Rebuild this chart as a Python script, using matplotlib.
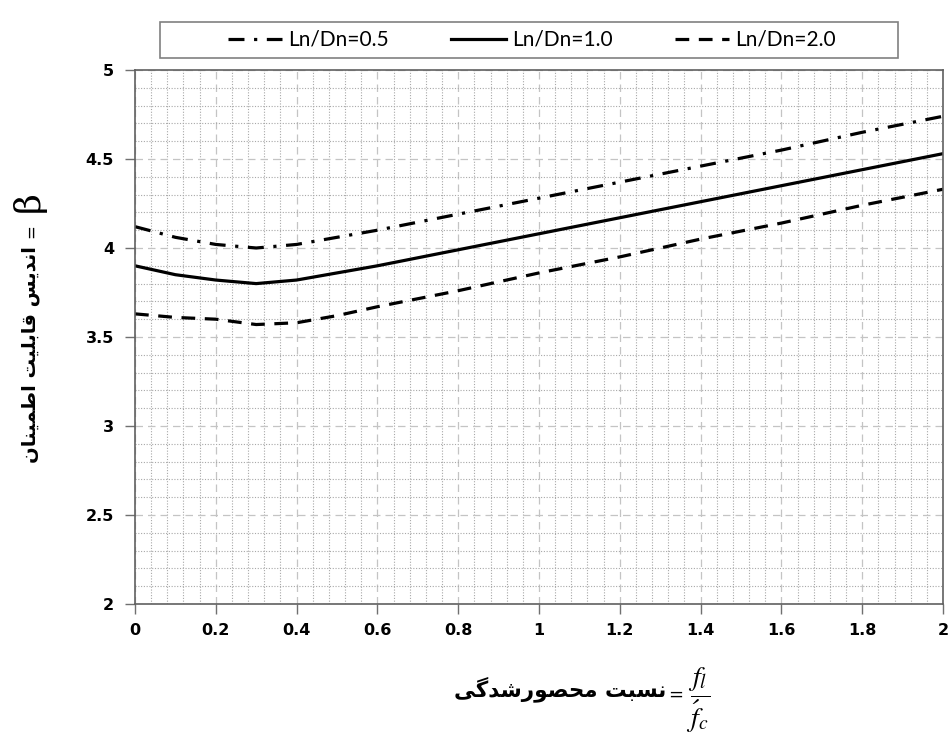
#!/usr/bin/env python3
"""
Reliability index vs confinement ratio - Ln/Dn curves
"""

import matplotlib
matplotlib.use("Agg")
import matplotlib.pyplot as plt
from matplotlib.patches import Rectangle
from matplotlib.ticker import MultipleLocator

plt.rcParams['mathtext.fontset'] = 'stix'

# ============================================================================
# DATA
# ============================================================================
x_vals = [0, 0.1, 0.2, 0.3, 0.4, 0.5, 0.6, 0.8, 1.0, 1.2, 1.4, 1.6, 1.8, 2.0]
beta_05 = [4.12, 4.06, 4.02, 4.00, 4.02, 4.06, 4.10, 4.19, 4.28, 4.37, 4.46, 4.55, 4.65, 4.74]
beta_10 = [3.90, 3.85, 3.82, 3.80, 3.82, 3.86, 3.90, 3.99, 4.08, 4.17, 4.26, 4.35, 4.44, 4.53]
beta_20 = [3.63, 3.61, 3.60, 3.57, 3.58, 3.62, 3.67, 3.76, 3.86, 3.95, 4.05, 4.14, 4.24, 4.33]
series_labels = ['Ln/Dn=0.5', 'Ln/Dn=1.0', 'Ln/Dn=2.0']

x_ticks = [0, 0.2, 0.4, 0.6, 0.8, 1.0, 1.2, 1.4, 1.6, 1.8, 2.0]
x_ticklabels = ['0', '0.2', '0.4', '0.6', '0.8', '1', '1.2', '1.4', '1.6', '1.8', '2']
y_ticks = [2, 2.5, 3, 3.5, 4, 4.5, 5]
y_ticklabels = ['2', '2.5', '3', '3.5', '4', '4.5', '5']

# Persian labels, written in visual (presentation form) order
ylabel_fa = ('\uFEE5\uFE8E\uFEE8\uFEF4\uFEE4\uFEC3\uFE8D '
             '\uFE96\uFEF4\uFEE0\uFE91\uFE8E\uFED7 '
             '\uFEB2\uFEF3\uFEAA\uFEE7\uFE8D')
xlabel_fa = ('\uFEF0\uFB94\uFEAA\uFEB7\uFEAD\uFEEE\uFEBC\uFEA4\uFEE3 '
             '\uFE96\uFE92\uFEB4\uFEE7')

# ============================================================================
# FIGURE
# ============================================================================
W, H = 948, 738
fig = plt.figure(figsize=(W/100, H/100), dpi=100)
ax = fig.add_axes([135/W, 1 - 604/H, 808/W, 534/H])

lw = 2.3
l1, = ax.plot(x_vals, beta_05, color='black', lw=lw, dashes=(5, 3, 1, 3), label=series_labels[0])
l2, = ax.plot(x_vals, beta_10, color='black', lw=lw, label=series_labels[1])
l3, = ax.plot(x_vals, beta_20, color='black', lw=lw, dashes=(4.3, 3), label=series_labels[2])

ax.set_xlim(0, 2)
ax.set_ylim(2, 5)
ax.set_xticks(x_ticks)
ax.set_xticklabels(x_ticklabels)
ax.set_yticks(y_ticks)
ax.set_yticklabels(y_ticklabels)
ax.xaxis.set_minor_locator(MultipleLocator(0.04))
ax.yaxis.set_minor_locator(MultipleLocator(0.1))

ax.grid(which='minor', ls=(0, (1, 1.5)), color='#a8a8a8', lw=0.8)
ax.grid(which='major', ls=(0, (6, 4)), color='#c4c4c4', lw=0.9)
ax.set_axisbelow(True)

ax.tick_params(which='minor', length=0)
ax.tick_params(which='major', direction='out', length=7, width=1, color='#707070',
               labelsize=11.5)
ax.tick_params(axis='y', pad=8)
ax.tick_params(axis='x', pad=7)
for lab in ax.get_xticklabels() + ax.get_yticklabels():
    lab.set_fontweight('bold')
for sp in ax.spines.values():
    sp.set_color('#606060')
    sp.set_linewidth(1.2)

# legend across the top, box drawn separately
fig.patches.append(Rectangle((160/W, 1 - 58/H), 738/W, 36/H, transform=fig.transFigure,
                             facecolor='white', edgecolor='#808080', lw=1.2))
leg = fig.legend(handles=[l1, l2, l3], loc='center', ncol=3,
                 bbox_to_anchor=(532/W, 1 - 40/H), frameon=False,
                 prop={'family': 'Lato', 'size': 15}, handlelength=2.6,
                 handletextpad=0.3, columnspacing=3.0, borderpad=0)

# y label: beta = reliability index
fig.text(29/W, 1 - 202/H, '\u03b2', rotation=90, ha='center', va='center',
         fontsize=26, family='DejaVu Serif')
fig.text(31/W, 1 - 231/H, '=', rotation=90, ha='center', va='center',
         fontsize=12, family='DejaVu Sans')
fig.text(31/W, 1 - 246/H, ylabel_fa, rotation=90, ha='center', va='top',
         fontsize=14, fontweight='bold', family='DejaVu Sans')

# x label: confinement ratio = fl / f'c
fig.text(666/W, 1 - 696/H, xlabel_fa, ha='right', va='baseline',
         fontsize=15.5, fontweight='bold', family='DejaVu Sans')
fig.text(676/W, 1 - 695/H, '=', ha='center', va='center', fontsize=13)
fig.text(686/W, 1 - 700/H, r'$\dfrac{f_l}{\acute{f}_c}$', ha='left', va='center',
         fontsize=20)

plt.savefig('out.png', dpi=100, facecolor='white')
print("saved out.png")
